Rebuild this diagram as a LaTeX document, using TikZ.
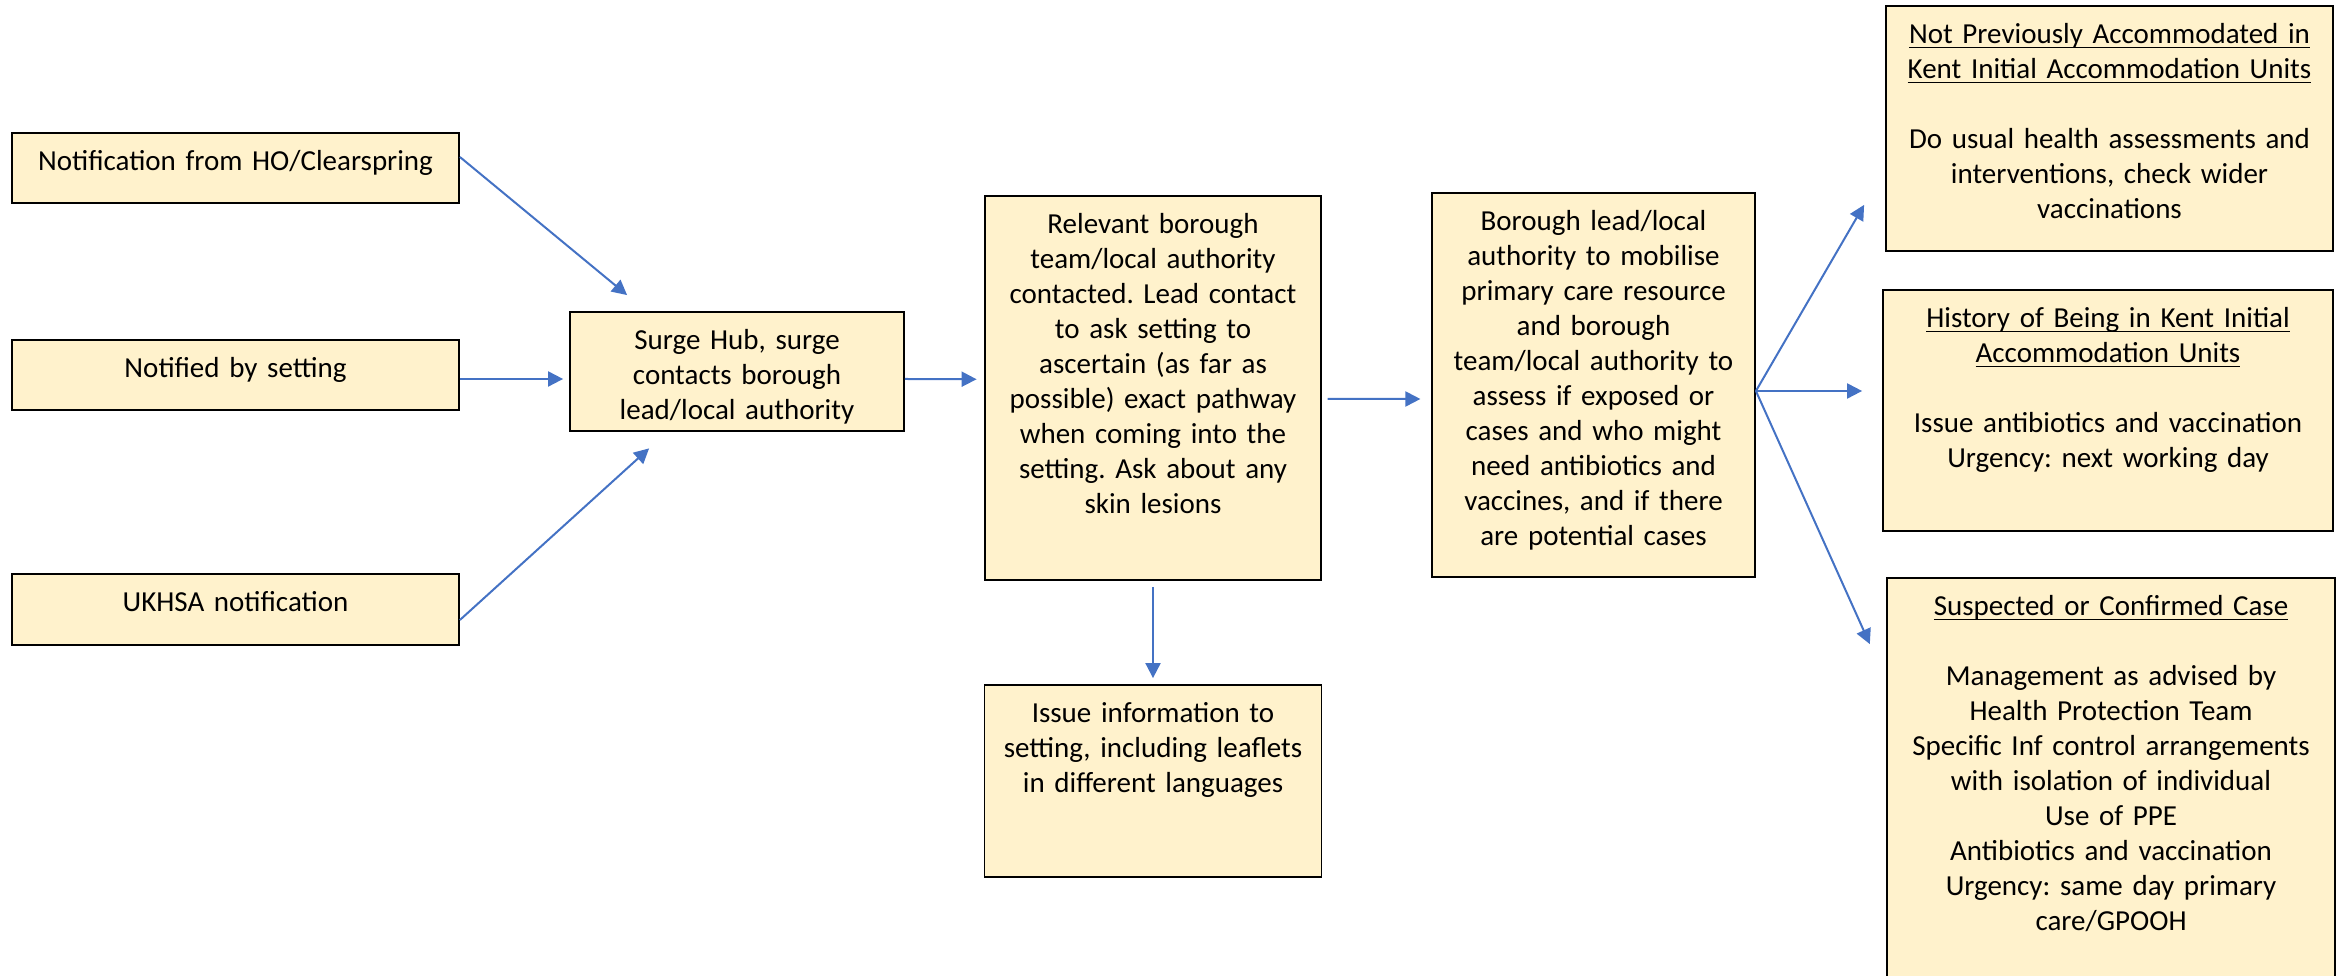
\documentclass[tikz,border=0pt]{standalone}
\usepackage{fontspec}
\setmainfont{Carlito}
\frenchspacing
\usepackage{tikz}
\usetikzlibrary{arrows.meta,positioning}
\definecolor{boxfill}{HTML}{FFF2CC}
\definecolor{flowblue}{HTML}{4472C4}
\newsavebox{\headbox}
\newcommand{\headline}[1]{\leavevmode\sbox{\headbox}{#1}\rlap{\rule[-1.25pt]{\wd\headbox}{0.45pt}}\usebox{\headbox}}
\tikzstyle{box} = [draw, fill=boxfill, line width=0.018cm, inner sep=0pt]
\tikzstyle{txt} = [text width=4.4cm, align=center, inner sep=0pt, font=\fontsize{8.25}{9.96}\selectfont, execute at begin node=\strut]
\tikzstyle{flow} = [draw=flowblue, line width=0.02cm, -{Triangle[width=0.15cm,length=0.15cm]}]

\begin{document}
\begin{tikzpicture}
\useasboundingbox (0,0) rectangle (23.36,9.76);
\clip (0,0) rectangle (23.36,9.76);
\node[box, minimum width=4.47cm, minimum height=0.70cm] (notifHO) at (2.355,8.08) {};
\node[box, minimum width=4.47cm, minimum height=0.70cm] (notifSet) at (2.355,6.01) {};
\node[box, minimum width=4.47cm, minimum height=0.71cm] (ukhsa) at (2.355,3.665) {};
\node[box, minimum width=3.34cm, minimum height=1.19cm] (hub) at (7.37,6.045) {};
\node[box, minimum width=3.36cm, minimum height=3.84cm] (relevant) at (11.53,5.88) {};
\node[box, minimum width=3.37cm, minimum height=1.92cm] (issue) at (11.53,1.95) {};
\node[box, minimum width=3.23cm, minimum height=3.84cm] (borough) at (15.935,5.91) {};
\node[box, minimum width=4.47cm, minimum height=2.45cm] (notPrev) at (21.095,8.475) {};
\node[box, minimum width=4.50cm, minimum height=2.41cm] (history) at (21.08,5.655) {};
\node[box, minimum width=4.48cm, minimum height=4.22cm] (suspected) at (21.11,1.87) {};

\node[txt, below=0.135cm of notifHO.north] (notifHOtxt) {Notification from HO/Clearspring};
\node[txt, below=0.135cm of notifSet.north] (notifSettxt) {Notified by setting};
\node[txt, below=0.135cm of ukhsa.north] (ukhsatxt) {UKHSA notification};
\node[txt, below=0.135cm of hub.north] (hubtxt) {Surge Hub, surge\\contacts borough\\lead/local authority};
\node[txt, below=0.135cm of relevant.north] (relevanttxt) {Relevant borough\\team/local authority\\contacted. Lead contact\\to ask setting to\\ascertain (as far as\\possible) exact pathway\\when coming into the\\setting. Ask about any\\skin lesions};
\node[txt, below=0.135cm of issue.north] (issuetxt) {Issue information to\\setting, including leaflets\\in different languages};
\node[txt, below=0.135cm of borough.north] (boroughtxt) {Borough lead/local\\authority to mobilise\\primary care resource\\and borough\\team/local authority to\\assess if exposed or\\cases and who might\\need antibiotics and\\vaccines, and if there\\are potential cases};
\node[txt, below=0.135cm of notPrev.north] (notPrevtxt) {\headline{Not Previously Accommodated in}\\\headline{Kent Initial Accommodation Units}\\[\baselineskip]Do usual health assessments and\\interventions, check wider\\vaccinations};
\node[txt, below=0.135cm of history.north] (historytxt) {\headline{History of Being in Kent Initial}\\\headline{Accommodation Units}\\[\baselineskip]Issue antibiotics and vaccination\\Urgency: next working day};
\node[txt, below=0.135cm of suspected.north] (suspectedtxt) {\headline{Suspected or Confirmed Case}\\[\baselineskip]Management as advised by\\Health Protection Team\\Specific Inf control arrangements\\with isolation of individual\\Use of PPE\\Antibiotics and vaccination\\Urgency: same day primary\\care/GPOOH};

\draw[flow] ([yshift=0.11cm]notifHO.east) -- ([xshift=0.58cm,yshift=0.16cm]hub.north west);
\draw[flow, shorten >=0.06cm] ([yshift=-0.04cm]notifSet.east) -- ([yshift=-0.075cm]hub.west);
\draw[flow] ([yshift=-0.105cm]ukhsa.east) -- ([xshift=0.80cm,yshift=-0.165cm]hub.south west);
\draw[flow, shorten >=0.075cm] ([yshift=-0.075cm]hub.east) -- ([yshift=0.087cm]relevant.west);
\draw[flow, shorten <=0.06cm, shorten >=0.06cm] (relevant.south) -- (issue.north);
\draw[flow, shorten <=0.056cm, shorten >=0.107cm] ([yshift=-0.11cm]relevant.east) -- ([yshift=-0.14cm]borough.west);
\coordinate (fork) at ([yshift=-0.06cm]borough.east);
\draw[flow] (fork) -- ([xshift=-0.21cm,yshift=0.47cm]notPrev.south west);
\draw[flow, shorten >=0.2cm] (fork) -- (fork -| history.west);
\draw[flow] (fork) -- ([xshift=-0.163cm,yshift=-0.67cm]suspected.north west);
\end{tikzpicture}
\end{document}
